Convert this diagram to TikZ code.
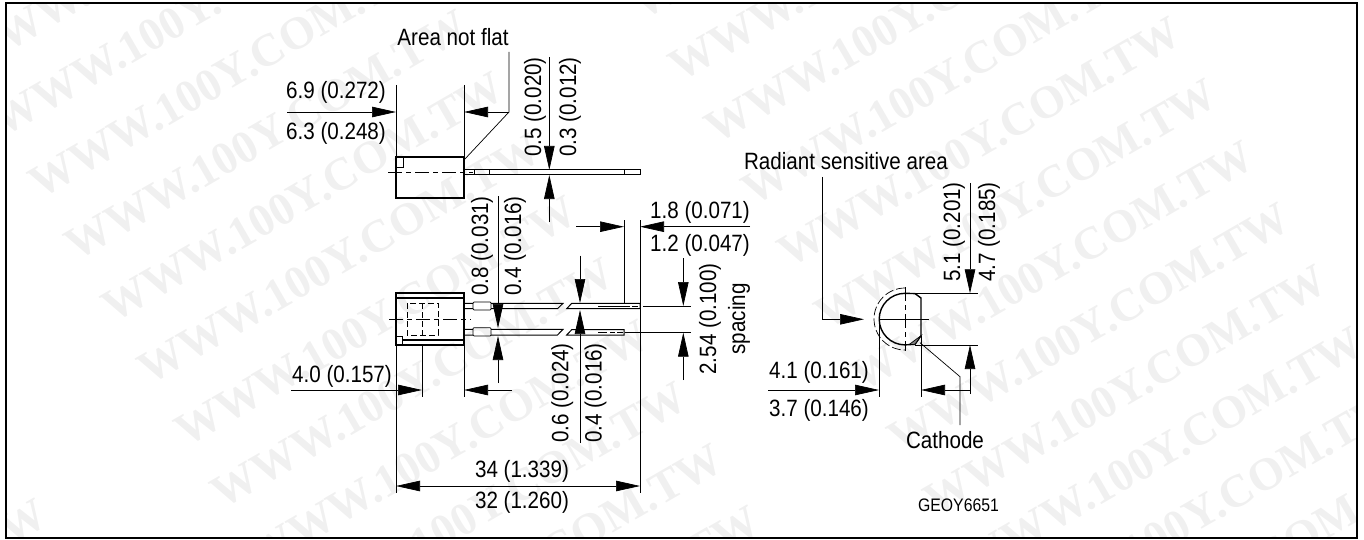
\documentclass[tikz,border=0pt]{standalone}
\usepackage{fontspec}
\setmainfont[FakeStretch=0.873]{Liberation Sans}
\newfontfamily\wmfont{Liberation Serif}
\usetikzlibrary{arrows.meta}
\tikzset{
  dimtext/.style={font=\fontsize{23.6}{26}\selectfont,inner sep=0pt,anchor=base},
  dimup/.style={dimtext,rotate=90},
  wmark/.style={font=\wmfont\bfseries\fontsize{46}{46}\selectfont,text=black!6,rotate=30,anchor=base,inner sep=0pt},
  thinln/.style={line width=0.7pt},
  dimln/.style={thinln,-{Triangle[length=24pt,width=10.5pt]}},
  bodyln/.style={line width=1.4pt},
  hiddenln/.style={thinln,dash pattern=on 6pt off 3pt},
  centerln/.style={thinln,dash pattern=on 14pt off 4pt on 5pt off 4pt}
}
\begin{document}
\begin{tikzpicture}[x=1pt,y=-1pt]
\useasboundingbox (0,0) rectangle (1364,540);
\begin{scope}
\clip (6,3) rectangle (1356.5,538);
\foreach \blk/\rfirst/\rlast in {-1/-4/-3,0/-4/7,1/-3/8}
  \foreach \row in {\rfirst,...,\rlast}
    \node[wmark] (w\blk\row) at ({420+713*\blk-36.5*\row},{396+7*\blk-62*\row}) {WWW.100Y.COM.TW};
\end{scope}
\draw[line width=2pt] (6,3) rectangle (1356.5,538);

\node[dimtext] (flat) at (453,46) {Area not flat};
\node[dimtext] (top69) at (336,99) {6.9 (0.272)};
\node[dimtext] (top63) at (336,140) {6.3 (0.248)};
\node[dimup] (top05) at (541,107) {0.5 (0.020)};
\node[dimup] (top03) at (576,107) {0.3 (0.012)};
\coordinate (flatup) at (509,52);
\coordinate (flatknee) at (509,112);
\coordinate (flatend) at (464,160);
\draw[thinln] (flatup)--(flatknee)--(flatend);
\draw[dimln] (287,112)--(396,112);
\draw[dimln] (flatknee)--(464,112);
\draw[thinln] (396,85)--(396,157);
\draw[thinln] (464,85)--(464,157);
\draw[bodyln] (396,157) rectangle (464,198);
\draw[thinln,line width=1pt] (396,168)--(403,168)--(403,157);
\draw[centerln] (388,172)--(473,172);
\draw[thinln,line width=1pt] (464,170) rectangle (640,175);
\draw[thinln] (474,170)--(474,175);
\draw[thinln] (489,170)--(489,175);
\draw[thinln] (624,170)--(624,175);
\draw[dimln] (549.3,57)--(549.3,170);
\draw[dimln] (549.3,222)--(549.3,175);

\draw[bodyln] (396,293) rectangle (464,345);
\draw[bodyln] (396,298)--(464,298);
\draw[bodyln] (402.5,340)--(464,340);
\draw[line width=1pt] (396,336.5) rectangle (402.5,345);
\draw[hiddenln] (407,303) rectangle (438,335);
\draw[hiddenln] (422,303)--(422,335);
\draw[centerln] (389,319)--(471,319);
\foreach \ytop/\ybot in {303.3/308.7,329.3/335}
  \draw[thinln,line width=1pt] (464,\ytop)--(473,\ytop) (464,\ybot)--(473,\ybot)
    (491,\ytop)--(563,\ytop)--(557.5,\ybot)--(491,\ybot);
\draw[thinln,rounded corners=1pt] (473,302) rectangle (491,310);
\draw[thinln,rounded corners=1pt] (473,327.7) rectangle (491,336);
\draw[thinln,line width=1pt] (640,303.3)--(571.7,303.3)--(566.7,308.7)--(640,308.7)--cycle;
\draw[thinln,line width=1pt] (624,329.7)--(571.7,329.7)--(566.7,335)--(624,335)--cycle;
\draw[thinln] (598,306)--(630,306);
\draw[thinln] (632,306)--(638,306);
\draw[thinln] (598,332.3)--(607,332.3);
\draw[thinln] (610,332.3)--(615,332.3);
\draw[thinln] (617,332.3)--(623,332.3);

\node[dimup] (lead08) at (488,246) {0.8 (0.031)};
\node[dimup] (lead04) at (521,246) {0.4 (0.016)};
\draw[dimln] (498,196)--(498,328);
\draw[dimln] (498,383)--(498,336);

\node[dimtext] (body40) at (342,382) {4.0 (0.157)};
\draw[dimln] (291,390)--(422,390);
\draw[dimln] (512,390)--(464,390);
\draw[thinln] (396,345)--(396,493);
\draw[thinln] (422,345)--(422,397);
\draw[thinln] (464,345)--(464,397);

\node[dimtext] (tip18) at (700,218.3) {1.8 (0.071)};
\node[dimtext] (tip12) at (700,251.7) {1.2 (0.047)};
\draw[dimln] (576,226.7)--(624,226.7);
\draw[dimln] (750,226.7)--(640,226.7);
\draw[thinln] (624,220)--(624,303);
\draw[thinln] (640,220)--(640,493);

\node[dimup] (wire06) at (568.3,393) {0.6 (0.024)};
\node[dimup] (wire04) at (601.7,393) {0.4 (0.016)};
\draw[dimln] (580,255.7)--(580,303);
\draw[dimln] (580,443)--(580,310);

\node[dimup] (pitch) at (716,319) {2.54 (0.100)};
\node[dimup] (spacing) at (745,319) {spacing};
\draw[dimln] (683.3,258)--(683.3,306);
\draw[dimln] (683.3,380)--(683.3,332.7);
\draw[thinln] (643,306)--(690.7,306);
\draw[thinln] (625,332.7)--(690.7,332.7);

\node[dimtext] (len34) at (522,477) {34 (1.339)};
\node[dimtext] (len32) at (522,508) {32 (1.260)};
\draw[dimln] (518,486)--(396,486);
\draw[dimln] (518,486)--(640,486);

\node[dimtext] (radiant) at (846,169.3) {Radiant sensitive area};
\coordinate (radup) at (822.3,177);
\coordinate (radknee) at (822.3,319.3);
\coordinate (radtip) at (864,319.3);
\draw[dimln] (radup)--(radknee)--(radtip);
\draw[bodyln] (915,293.6)--(905,293.3) arc[start angle=-90,end angle=-270,radius=25.8]--(915,344.3)--(921,335.7)--(921,298)--cycle;
\draw[thinln,fill=black!50] (909,344.6)--(921,335.7)--(915,344.3)--cycle;
\draw[thinln,dash pattern=on 9pt off 3pt] (905,288) arc[start angle=-90,end angle=-270,radius=31];
\draw[centerln] (905,287)--(905,351);
\draw[thinln] (879,319)--(929,319);
\draw[thinln] (905,293.3)--(977.7,293.3);
\draw[thinln] (915,345)--(977.7,345);

\node[dimup] (dia51) at (960,232) {5.1 (0.201)};
\node[dimup] (dia47) at (995,232) {4.7 (0.185)};
\draw[dimln] (970,183)--(970,293.3);
\draw[dimln] (970,394)--(970,345);

\node[dimtext] (wid41) at (819,378) {4.1 (0.161)};
\node[dimtext] (wid37) at (819,416.7) {3.7 (0.146)};
\draw[dimln] (768,390)--(879,390);
\draw[dimln] (970,390)--(921,390);
\draw[thinln] (879,319)--(879,397);
\draw[thinln] (921,336)--(921,397);

\node[dimtext] (cathode) at (945,448.3) {Cathode};
\coordinate (cathstart) at (920,342.7);
\coordinate (cathknee) at (960,376.7);
\coordinate (cathend) at (960,425);
\draw[thinln] (cathstart)--(cathknee)--(cathend);

\node[dimtext,font=\fontsize{18.1}{20}\selectfont] (partno) at (958.5,511.7) {GEOY6651};
\end{tikzpicture}
\end{document}
